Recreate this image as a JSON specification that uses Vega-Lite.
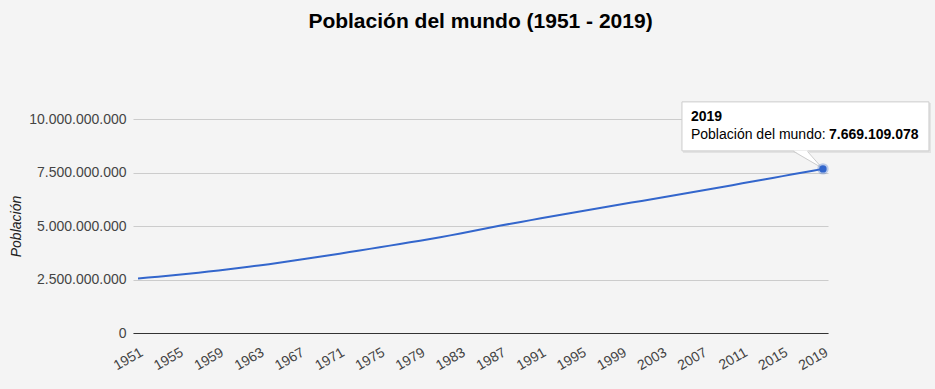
{
  "$schema": "https://vega.github.io/schema/vega-lite/v6.json",
  "autosize": "none",
  "width": 695,
  "height": 214,
  "padding": {"left": 133, "top": 119, "right": 107, "bottom": 56},
  "background": "#f4f4f4",
  "title": {
    "text": "Población del mundo (1951 - 2019)",
    "anchor": "middle",
    "frame": "group",
    "baseline": "alphabetic",
    "offset": 52,
    "font": "Arial, Liberation Sans",
    "fontSize": 21,
    "fontWeight": "bold",
    "color": "#000000"
  },
  "config": {
    "view": {"stroke": null},
    "locale": {
      "number": {"decimal": ",", "thousands": ".", "grouping": [3], "currency": ["", " €"]}
    },
    "font": "Arial, Liberation Sans"
  },
  "data": {
    "values": [
      {"year": 1951, "pop": 2550000000},
      {"year": 1952, "pop": 2590000000},
      {"year": 1953, "pop": 2632000000},
      {"year": 1954, "pop": 2676000000},
      {"year": 1955, "pop": 2722000000},
      {"year": 1956, "pop": 2770000000},
      {"year": 1957, "pop": 2820000000},
      {"year": 1958, "pop": 2872000000},
      {"year": 1959, "pop": 2925000000},
      {"year": 1960, "pop": 2980000000},
      {"year": 1961, "pop": 3037000000},
      {"year": 1962, "pop": 3095000000},
      {"year": 1963, "pop": 3155000000},
      {"year": 1964, "pop": 3217000000},
      {"year": 1965, "pop": 3281000000},
      {"year": 1966, "pop": 3350000000},
      {"year": 1967, "pop": 3420000000},
      {"year": 1968, "pop": 3490000000},
      {"year": 1969, "pop": 3562000000},
      {"year": 1970, "pop": 3634000000},
      {"year": 1971, "pop": 3707000000},
      {"year": 1972, "pop": 3781000000},
      {"year": 1973, "pop": 3856000000},
      {"year": 1974, "pop": 3931000000},
      {"year": 1975, "pop": 4007000000},
      {"year": 1976, "pop": 4083000000},
      {"year": 1977, "pop": 4160000000},
      {"year": 1978, "pop": 4237000000},
      {"year": 1979, "pop": 4315000000},
      {"year": 1980, "pop": 4394000000},
      {"year": 1981, "pop": 4474000000},
      {"year": 1982, "pop": 4562000000},
      {"year": 1983, "pop": 4650000000},
      {"year": 1984, "pop": 4740000000},
      {"year": 1985, "pop": 4832000000},
      {"year": 1986, "pop": 4928000000},
      {"year": 1987, "pop": 5020000000},
      {"year": 1988, "pop": 5105000000},
      {"year": 1989, "pop": 5190000000},
      {"year": 1990, "pop": 5275000000},
      {"year": 1991, "pop": 5360000000},
      {"year": 1992, "pop": 5444000000},
      {"year": 1993, "pop": 5527000000},
      {"year": 1994, "pop": 5610000000},
      {"year": 1995, "pop": 5692000000},
      {"year": 1996, "pop": 5774000000},
      {"year": 1997, "pop": 5855000000},
      {"year": 1998, "pop": 5935000000},
      {"year": 1999, "pop": 6014000000},
      {"year": 2000, "pop": 6093000000},
      {"year": 2001, "pop": 6171000000},
      {"year": 2002, "pop": 6249000000},
      {"year": 2003, "pop": 6331000000},
      {"year": 2004, "pop": 6413000000},
      {"year": 2005, "pop": 6495000000},
      {"year": 2006, "pop": 6577000000},
      {"year": 2007, "pop": 6660000000},
      {"year": 2008, "pop": 6743000000},
      {"year": 2009, "pop": 6826000000},
      {"year": 2010, "pop": 6909000000},
      {"year": 2011, "pop": 6993000000},
      {"year": 2012, "pop": 7077000000},
      {"year": 2013, "pop": 7161000000},
      {"year": 2014, "pop": 7245000000},
      {"year": 2015, "pop": 7330000000},
      {"year": 2016, "pop": 7414000000},
      {"year": 2017, "pop": 7499000000},
      {"year": 2018, "pop": 7584000000},
      {"year": 2019, "pop": 7669109078}
    ]
  },
  "encoding": {
    "x": {
      "field": "year",
      "type": "quantitative",
      "scale": {"domain": [1950.5, 2019.5], "nice": false, "zero": false},
      "axis": {
        "values": [1951, 1955, 1959, 1963, 1967, 1971, 1975, 1979, 1983, 1987, 1991, 1995, 1999, 2003, 2007, 2011, 2015, 2019],
        "format": "d",
        "title": null,
        "grid": false,
        "ticks": false,
        "domain": true,
        "domainColor": "#333333",
        "domainWidth": 1,
        "labelAngle": -30,
        "labelAlign": "right",
        "labelBaseline": "top",
        "labelPadding": 12,
        "labelFontSize": 14,
        "labelColor": "#444444",
        "labelOverlap": false,
        "labelFlush": false
      }
    },
    "y": {
      "field": "pop",
      "type": "quantitative",
      "scale": {"domain": [0, 10000000000], "nice": false},
      "axis": {
        "values": [0, 2500000000, 5000000000, 7500000000, 10000000000],
        "format": ",d",
        "title": "Población",
        "titleFontStyle": "italic",
        "titleFontWeight": "normal",
        "titleFontSize": 14,
        "titleColor": "#222222",
        "titleAngle": -90,
        "titleX": -117,
        "titleY": 107,
        "titleAlign": "center",
        "titleBaseline": "middle",
        "grid": true,
        "gridColor": "#cccccc",
        "domain": false,
        "ticks": false,
        "labelPadding": 7,
        "labelFontSize": 14,
        "labelColor": "#444444"
      }
    }
  },
  "layer": [
    {"mark": {"type": "line", "color": "#3366cc", "strokeWidth": 2}},
    {
      "transform": [{"filter": "datum.year == 2019"}],
      "mark": {"type": "rect", "fill": "#000000", "opacity": 0.07, "xOffset": -140, "x2Offset": 108, "yOffset": -66, "y2Offset": -16},
      "encoding": {"x2": {"field": "year"}, "y2": {"field": "pop"}}
    },
    {
      "transform": [{"filter": "datum.year == 2019"}],
      "mark": {"type": "rect", "fill": "#ffffff", "stroke": "#cccccc", "strokeWidth": 1, "xOffset": -141, "x2Offset": 106, "yOffset": -67, "y2Offset": -18},
      "encoding": {"x2": {"field": "year"}, "y2": {"field": "pop"}}
    },
    {
      "transform": [{"filter": "datum.year == 2019"}],
      "mark": {"type": "point", "shape": "M -29.5 -18.5 L -15.5 -18.5 L -1 -1 Z", "size": 4, "filled": true, "fill": "#ffffff", "opacity": 1, "strokeWidth": 0}
    },
    {
      "transform": [{"filter": "datum.year == 2019"}],
      "mark": {"type": "point", "shape": "M -29.5 -17.5 L -1 -1 L -15.5 -17.5", "size": 4, "filled": false, "fill": null, "stroke": "#cccccc", "strokeWidth": 1, "opacity": 1}
    },
    {
      "transform": [{"filter": "datum.year == 2019"}],
      "mark": {"type": "point", "filled": true, "color": "#3366cc", "size": 55, "opacity": 1, "stroke": "#3366cc", "strokeOpacity": 0.3, "strokeWidth": 4}
    },
    {
      "transform": [{"filter": "datum.year == 2019"}],
      "mark": {"type": "text", "align": "left", "baseline": "alphabetic", "dx": -132, "dy": -48, "fontSize": 14, "fontWeight": "bold", "color": "#000000"},
      "encoding": {"text": {"field": "year", "type": "quantitative", "format": "d"}}
    },
    {
      "transform": [{"filter": "datum.year == 2019"}],
      "mark": {"type": "text", "align": "left", "baseline": "alphabetic", "dx": -132, "dy": -30, "fontSize": 14, "color": "#000000", "text": "Población del mundo:"}
    },
    {
      "transform": [{"filter": "datum.year == 2019"}],
      "mark": {"type": "text", "align": "left", "baseline": "alphabetic", "dx": 6, "dy": -30, "fontSize": 14, "fontWeight": "bold", "color": "#000000"},
      "encoding": {"text": {"field": "pop", "type": "quantitative", "format": ",d"}}
    }
  ]
}
